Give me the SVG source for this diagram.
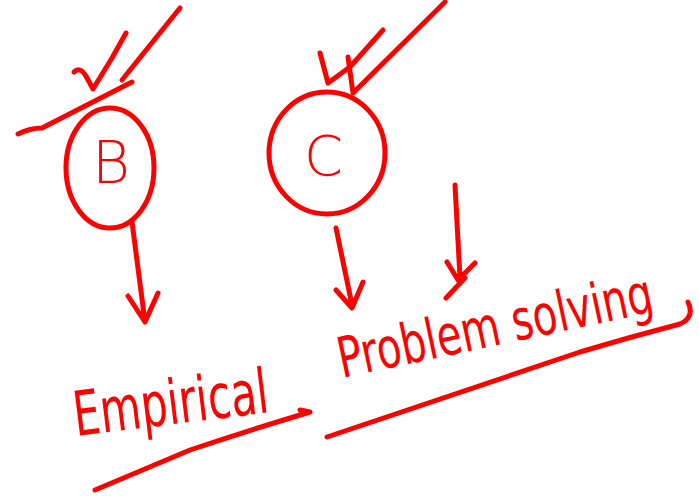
<svg xmlns="http://www.w3.org/2000/svg" width="699" height="496" viewBox="0 0 699 496">
<style>
.s{fill:none;stroke:#ff0000;stroke-width:5;stroke-linecap:round;stroke-linejoin:round}
.t{fill:#ff0000;font-family:"DejaVu Sans","Liberation Sans",sans-serif}
</style>
<rect width="699" height="496" fill="#fff"/>
<g id="nodeB">
<ellipse class="s" cx="110" cy="168" rx="44" ry="60"/>
<text class="t" x="92" y="183" font-size="58" font-weight="300">B</text>
<path class="s" d="M74 72 Q80 66 86 76 L93 89 L112 58 L126 33"/>
<path class="s" d="M180 8 L122 80"/>
<path class="s" d="M18 134 Q30 128 42 128 L132 82"/>
</g>
<g id="nodeC">
<ellipse class="s" cx="327" cy="153" rx="58" ry="61"/>
<text class="t" x="304" y="175" font-size="56" font-weight="300">C</text>
<path class="s" d="M320 53 L328 83 L350 67 L383 30"/>
<path class="s" d="M348 57 L353 93 L445 2"/>
</g>
<g id="nodeEmpirical">
<text class="t" x="0" y="0" font-size="62" transform="translate(76 436) rotate(-7) scale(0.68 1)">Empirical</text>
<path class="s" d="M95 490 L190 450 Q250 430 310 412 L300 410"/>
</g>
<g id="nodeProblem">
<text class="t" x="0" y="0" font-size="56" transform="translate(342 378) rotate(-12) scale(0.72 1)">Problem solving</text>
<path class="s" d="M327 437 L580 352 Q630 337 680 324 Q695 317 688 302"/>
</g>
<g id="connectors">
<path class="s" d="M132 222 L145 322 M128 296 L145 322 L158 293"/>
<path class="s" d="M336 228 L352 305 M336 290 L352 308 L363 282"/>
<path class="s" d="M455 185 L460 278 M447 262 L458 280 L475 263 M465 278 L446 298"/>
</g>
</svg>
